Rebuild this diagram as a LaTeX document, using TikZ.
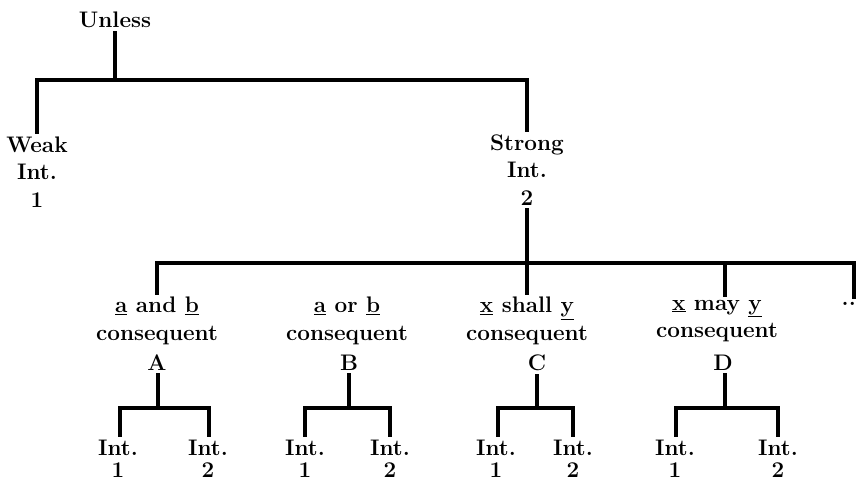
\documentclass[tikz,border=0pt]{standalone}
\usepackage{fontspec}
\begin{document}
\begin{tikzpicture}[x=1pt,y=-1pt,
  lbl/.style={font=\fontsize{22.5}{27.5}\selectfont\bfseries, align=center, inner xsep=0pt, inner ysep=4pt},
  lbs/.style={font=\fontsize{22.5}{22.5}\selectfont\bfseries, align=center, inner xsep=0pt, inner ysep=4pt},
  tree/.style={line width=3.2pt, line cap=rect}]
\useasboundingbox (0,0) rectangle (856,481);
% top level
\node[lbl] (unless) at (115,20) {Unless};
\node[lbl] (weak) at (37,172) {Weak\\Int.\\1};
\node[lbl] (strong) at (527,170) {Strong\\Int.\\2};
\coordinate (j0) at (115,80);
\draw[tree] (unless.south) -- (j0);
\draw[tree] (weak.north) |- (j0) -| (strong.north);
% second level
\coordinate (j1) at (527,263);
\coordinate (jE) at (854,297);
\node[lbl] (at) at (157,321) {\underline{a} and \underline{b}\\consequent};
\node[lbl] (aA) at (157,363) {A};
\node[lbl] (bt) at (347,321) {\underline{a} or \underline{b}\\consequent};
\node[lbl] (bB) at (349,363) {B};
\node[lbl] (ct) at (527,321) {\underline{x} shall \underline{y}\\consequent};
\node[lbl] (cC) at (537,363) {C};
\node[lbl] (dt) at (717,321) {\underline{x} may \underline{y}\\consequent};
\node[lbl] (dD) at (723,363) {D};
\node[lbl, anchor=east] (dots) at (856,304) {..};
\draw[tree] (strong.south) -- (j1);
\draw[tree] (at.north -| 157,0) |- (j1);
\draw[tree] (bt.north -| 349,0) -- (bt.north -| 349,263);
\draw[tree] (j1) -- (ct.north);
\draw[tree] (j1) -| (725,263) -- (dt.north -| 725,0);
\draw[tree] (725,263) -| (jE);
% third level
\coordinate (ja) at (158,408);
\coordinate (jb) at (349,408);
\coordinate (jc) at (537,408);
\coordinate (jd) at (725,408);
\node[lbs] (a1) at (118,459) {Int.\\1};
\node[lbs] (a2) at (208,459) {Int.\\2};
\node[lbs] (b1) at (305,459) {Int.\\1};
\node[lbs] (b2) at (390,459) {Int.\\2};
\node[lbs] (c1) at (496,459) {Int.\\1};
\node[lbs] (c2) at (573,459) {Int.\\2};
\node[lbs] (d1) at (675,459) {Int.\\1};
\node[lbs] (d2) at (778,459) {Int.\\2};
\draw[tree] (aA.south -| ja) -- (ja);
\draw[tree] (a1.north -| 120,0) |- (ja) -| (a2.north -| 209,0);
\draw[tree] (bB.south -| jb) -- (jb);
\draw[tree] (b1.north -| 305,0) |- (jb) -| (b2.north -| 390,0);
\draw[tree] (cC.south -| jc) -- (jc);
\draw[tree] (c1.north -| 498,0) |- (jc) -| (c2.north -| 573,0);
\draw[tree] (dD.south -| jd) -- (jd);
\draw[tree] (d1.north -| 676,0) |- (jd) -| (d2.north -| 778,0);
\end{tikzpicture}
\end{document}
